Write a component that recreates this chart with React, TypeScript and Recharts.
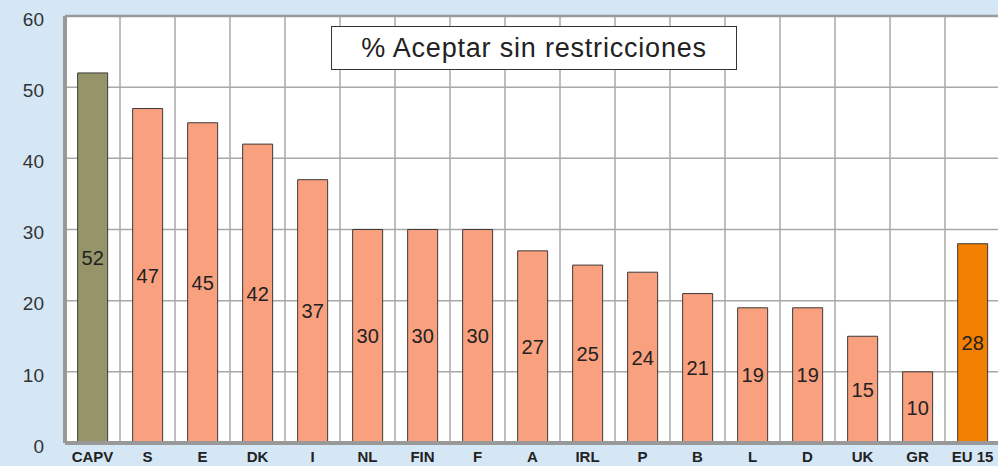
import React from "react";
import {
  BarChart,
  Bar,
  XAxis,
  YAxis,
  CartesianGrid,
  Cell,
  LabelList,
  ReferenceLine,
} from "recharts";

// países y porcentajes
const countries = ["CAPV", "S", "E", "DK", "I", "NL", "FIN", "F", "A", "IRL", "P", "B", "L", "D", "UK", "GR", "EU 15"];
const acceptPct = [52, 47, 45, 42, 37, 30, 30, 30, 27, 25, 24, 21, 19, 19, 15, 10, 28];
const yTicks = [0, 10, 20, 30, 40, 50, 60];

const data = countries.map((name, i) => ({ name, value: acceptPct[i] }));

const FONT = "'Liberation Sans', Arial, sans-serif";

const barColor = (name: string) => {
  if (name === "CAPV") return "#96956a";
  if (name === "EU 15") return "#f27f00";
  return "#f9a07f";
};

export default function App() {
  return (
    <div
      style={{
        position: "fixed",
        left: 0,
        top: 0,
        width: 998,
        height: 466,
        overflow: "hidden",
        background: "#d5e7f5",
        fontFamily: FONT,
      }}
    >
      <BarChart
        width={1002}
        height={466}
        data={data}
        margin={{ top: 16, right: 2, bottom: 0, left: 0 }}
        barCategoryGap="23%"
      >
        <CartesianGrid
          fill="#ffffff"
          stroke="#a8a8a8"
          strokeWidth={1.5}
          verticalCoordinatesGenerator={({ offset }: any) => {
            const band = offset.width / countries.length;
            return countries.map((_, i) => offset.left + band * (i + 1));
          }}
        />
        <ReferenceLine y={60} stroke="#999999" strokeWidth={2.5} />
        <XAxis
          dataKey="name"
          height={23}
          interval={0}
          tickSize={0}
          tickMargin={8}
          stroke="#999999"
          strokeWidth={4}
          tick={{ fill: "#222", fontSize: 15, fontWeight: "bold", fontFamily: FONT }}
        />
        <YAxis
          width={65}
          domain={[0, 60]}
          ticks={yTicks}
          interval={0}
          tickSize={0}
          tickMargin={21}
          stroke="#999999"
          strokeWidth={4}
          tick={{ fill: "#333", fontSize: 19, fontFamily: FONT, dy: 3 }}
        />
        <Bar dataKey="value" stroke="#3a3a3a" strokeWidth={1} isAnimationActive={false}>
          {data.map((d) => (
            <Cell key={d.name} fill={barColor(d.name)} />
          ))}
          <LabelList
            dataKey="value"
            position="center"
            fill="#222"
            fontSize={20}
            fontFamily={FONT}
          />
        </Bar>
      </BarChart>
      <div
        style={{
          position: "absolute",
          left: 331,
          top: 26,
          width: 404,
          height: 42,
          border: "1px solid #333",
          background: "#fff",
          fontSize: 27,
          lineHeight: "42px",
          textAlign: "center",
          color: "#222",
          letterSpacing: 0.8,
        }}
      >
        % Aceptar sin restricciones
      </div>
    </div>
  );
}
